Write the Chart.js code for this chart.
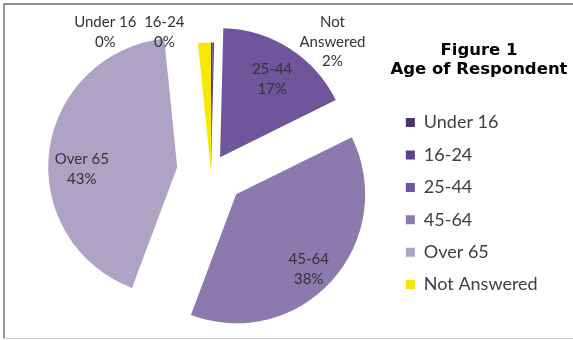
<!DOCTYPE html>
<html>
<head>
<meta charset="utf-8">
<title>Age of Respondent</title>
<script src="https://cdn.jsdelivr.net/npm/chart.js@4.4.0/dist/chart.umd.min.js"></script>
<style>
    html, body { margin: 0; padding: 0; background: #ffffff; }
    #wrap { position: relative; width: 573px; height: 340px; }
</style>
</head>
<body>
<div id="wrap"><canvas id="ageChart"></canvas></div>
<script>
// survey answers, percent of respondents per age band
const ageGroups = ["Under 16", "16-24", "25-44", "45-64", "Over 65", "Not Answered"];
const sharePercent = [0.2, 0.2, 17.3, 38.0, 42.7, 1.6];
const figureTitle = ["Figure 1", "Age of Respondent"];

// look of the slices
const sliceColors = ["#4b3474", "#5e4289", "#6f559c", "#8c79ad", "#aea3c5", "#f6e800"];
const explodeBy = [0, 0, 17, 34, 34, 0];

// where each value label sits: fraction of radius along the slice middle, then a nudge
const labelSpots = [
    { r: 1.0, dx: -106.5, dy: -10.5 },
    { r: 1.0, dx: -49, dy: -10.5 },
    { r: 0.72, dx: 2, dy: 0 },
    { r: 0.805, dx: -4.5, dy: 5 },
    { r: 0.73, dx: -2, dy: 14 },
    { r: 1.0, dx: 128, dy: -1 }
];

// pie slice that slides out along its middle without growing its radius
class ExplodedArc extends Chart.ArcElement {
    draw(ctx) {
        const opts = this.options;
        const shift = opts.offset || 0;
        const mid = (this.startAngle + this.endAngle) / 2;
        ctx.save();
        ctx.translate(Math.cos(mid) * shift, Math.sin(mid) * shift);
        this.options = Object.assign({}, opts, { offset: 0 });
        super.draw(ctx);
        this.options = opts;
        ctx.restore();
    }
}
ExplodedArc.id = "explodedArc";

class ExplodedPie extends Chart.PieController {}
ExplodedPie.id = "explodedPie";
ExplodedPie.defaults = { dataElementType: "explodedArc" };

Chart.register(ExplodedArc, ExplodedPie);

// thin grey frame round the figure
const frame = {
    id: "frame",
    afterDraw(chart) {
        const ctx = chart.ctx;
        ctx.save();
        ctx.fillStyle = "#8f8f8f";
        ctx.fillRect(3, 3, 570, 2);
        ctx.fillStyle = "#9c9c9c";
        ctx.fillRect(3, 3, 2, 335);
        ctx.fillStyle = "#c8c8c8";
        ctx.fillRect(3, 338, 570, 1);
        ctx.restore();
    }
};

// "Figure 1 / Age of Respondent" above the legend
const figureHeading = {
    id: "figureHeading",
    afterDraw(chart) {
        const ctx = chart.ctx;
        ctx.save();
        ctx.font = "bold 16.5px 'DejaVu Sans'";
        ctx.fillStyle = "#000000";
        ctx.textAlign = "center";
        ctx.textBaseline = "alphabetic";
        ctx.fillText(figureTitle[0], 479, 55);
        ctx.fillText(figureTitle[1], 479, 74);
        ctx.restore();
    }
};

// name + percent written on or near each slice
const sliceLabels = {
    id: "sliceLabels",
    afterDatasetsDraw(chart) {
        const ctx = chart.ctx;
        const meta = chart.getDatasetMeta(0);
        const lineGap = 19.5;
        ctx.save();
        ctx.font = "15px Lato";
        ctx.fillStyle = "#333333";
        ctx.textAlign = "center";
        ctx.textBaseline = "middle";
        meta.data.forEach((arc, i) => {
            const spot = labelSpots[i];
            const mid = (arc.startAngle + arc.endAngle) / 2;
            const dist = (arc.options.offset || 0) + spot.r * arc.outerRadius;
            const x = arc.x + Math.cos(mid) * dist + spot.dx;
            const y = arc.y + Math.sin(mid) * dist + spot.dy;
            const name = ageGroups[i];
            const lines = name.length > 10 ? name.split(" ") : [name];
            lines.push(Math.round(sharePercent[i]) + "%");
            lines.forEach((txt, k) => {
                ctx.fillText(txt, x, y + (k - (lines.length - 1) / 2) * lineGap);
            });
        });
        ctx.restore();
    }
};

const ctx = document.getElementById("ageChart").getContext("2d");
new Chart(ctx, {
    type: "explodedPie",
    data: {
        labels: ageGroups,
        datasets: [{
            data: sharePercent,
            backgroundColor: sliceColors,
            borderWidth: 0,
            offset: explodeBy,
            radius: 129
        }]
    },
    options: {
        responsive: true,
        maintainAspectRatio: false,
        animation: false,
        layout: {
            padding: { left: 30.4, top: 35, bottom: 32, right: 25.3 }
        },
        plugins: {
            tooltip: { enabled: false },
            legend: {
                position: "right",
                align: "end",
                labels: {
                    boxWidth: 9,
                    boxHeight: 9,
                    padding: 14.4,
                    color: "#404040",
                    font: { family: "Lato", size: 18 }
                }
            }
        }
    },
    plugins: [sliceLabels, figureHeading, frame]
});
</script>
</body>
</html>
